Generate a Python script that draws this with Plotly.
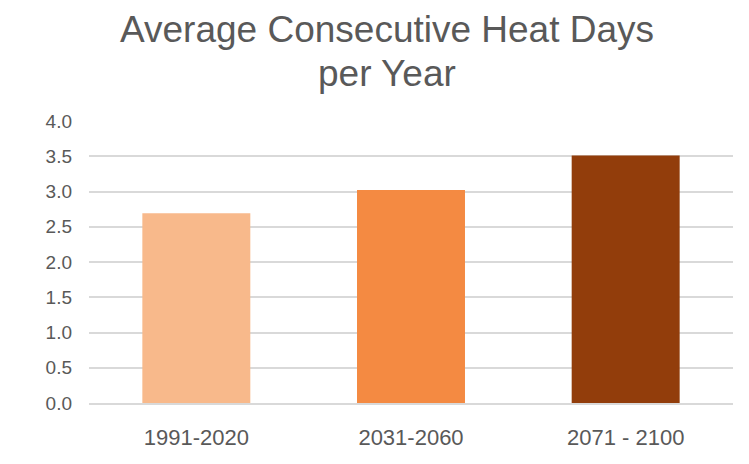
import plotly.graph_objects as go

categories = ["1991-2020", "2031-2060", "2071 - 2100"]
values = [2.69, 3.02, 3.51]
colors = ["#F8B98B", "#F48A42", "#923D0B"]
tick_vals = [0.0, 0.5, 1.0, 1.5, 2.0, 2.5, 3.0, 3.5, 4.0]
tick_text = ["0.0", "0.5", "1.0", "1.5", "2.0", "2.5", "3.0", "3.5", "4.0"]
title_lines = ["Average Consecutive Heat Days", "per Year"]

fig = go.Figure(go.Bar(x=categories, y=values, marker=dict(color=colors, line=dict(width=0)), width=0.503))

fig.update_layout(
    width=749, height=464,
    margin=dict(l=89, r=16, t=121, b=61),
    paper_bgcolor="white", plot_bgcolor="white",
    font=dict(family="Liberation Sans, Arial, sans-serif", color="#595959", size=16),
    showlegend=False,
)
for line, ypos in zip(title_lines, [1.326, 1.170]):
    fig.add_annotation(text=line, xref="paper", yref="paper", x=0.4635, y=ypos,
                       xanchor="center", yanchor="middle", showarrow=False,
                       font=dict(size=37, color="#595959"))
fig.update_yaxes(range=[0, 4], tickvals=tick_vals, ticktext=tick_text, showgrid=True,
                 gridcolor="#D9D9D9", gridwidth=1.5, zeroline=False, showline=False,
                 ticks="", ticklabelstandoff=16, tickfont=dict(size=19))
fig.update_xaxes(showline=True, linecolor="#D9D9D9", linewidth=1.5, ticks="",
                 tickfont=dict(size=22), ticklabelstandoff=14)

fig.write_html("out.html")
